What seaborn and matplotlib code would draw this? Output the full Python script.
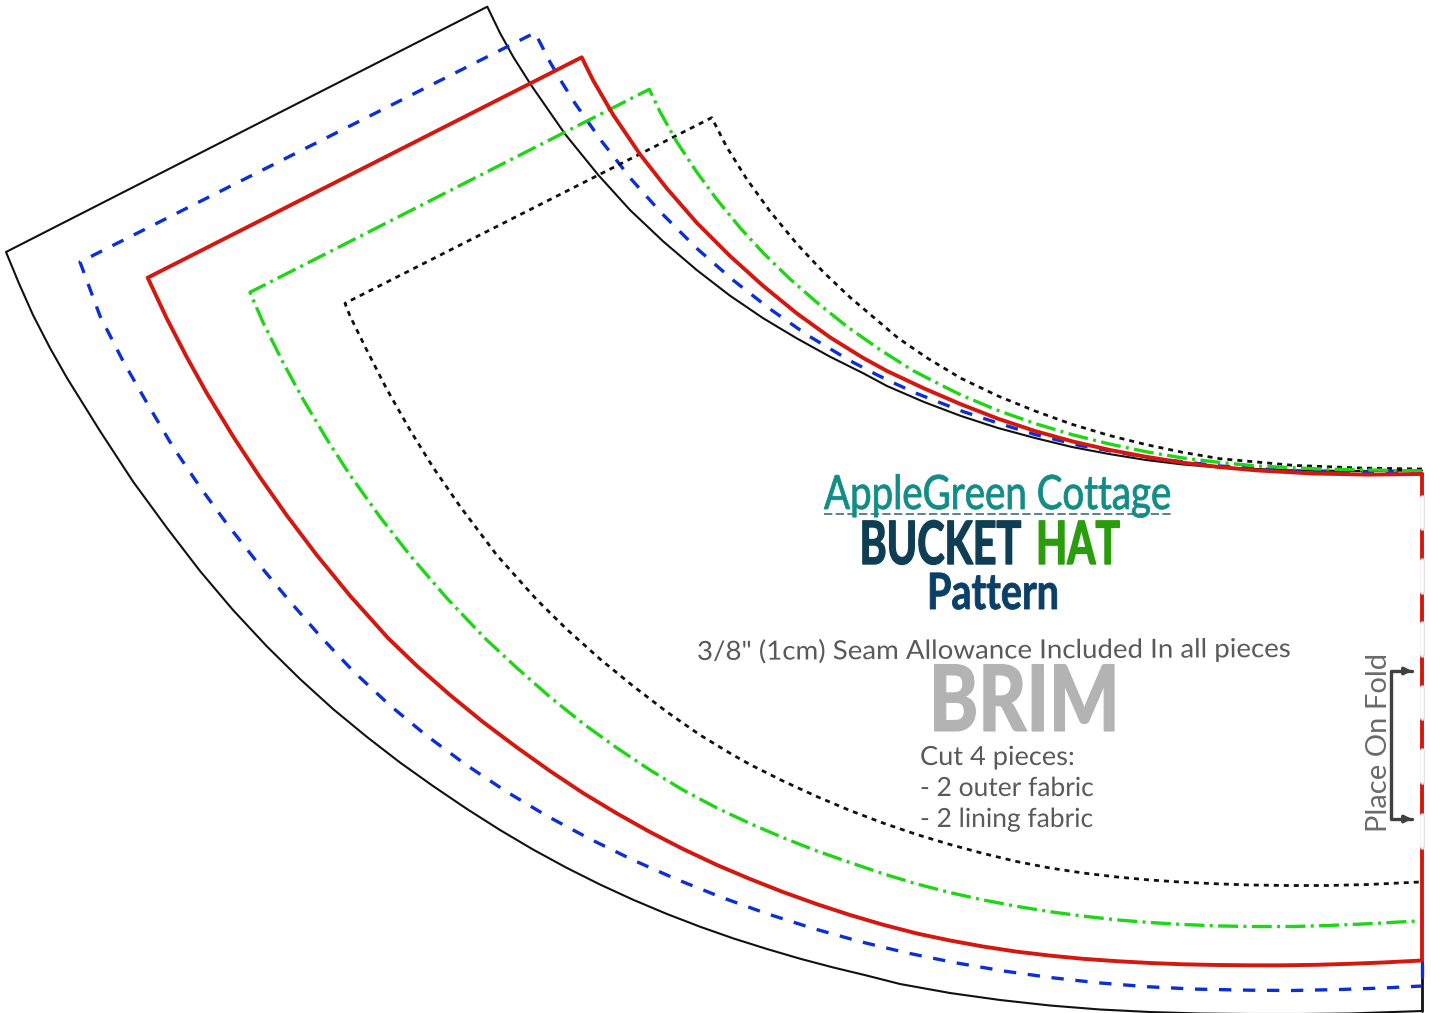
"""Bucket hat brim pattern sheet, redrawn with seaborn line plots."""
import matplotlib
matplotlib.use("Agg")
import matplotlib.pyplot as plt
from matplotlib.patheffects import AbstractPathEffect
from matplotlib.transforms import Affine2D
import seaborn as sns

# -----------------------------------------------------------------------------
# Outlines: inner end -> top corner -> left corner -> outer end
# -----------------------------------------------------------------------------
CUT_X = [1422, 1360, 1294, 1220, 1183, 1146, 1109, 1072, 1035, 998, 961, 924, 887, 863.3, 830,
         796.7, 763.3, 730, 696.7, 663.3, 630, 598.3, 565, 531.7, 513.3, 500, 487.3,
         6, 19, 33, 50, 67, 100, 133, 167, 200, 233, 267, 300, 333, 367, 400, 433, 467, 500, 533,
         567, 600, 633, 667, 700, 733, 767, 800, 833, 867, 900, 950, 1000, 1050, 1100, 1150, 1200,
         1250, 1300, 1350, 1422]
CUT_Y = [470.5, 471, 470.5, 467.5, 464.5, 460, 454, 447, 438, 428, 416, 402, 386, 373.3, 356.7,
         338.3, 318.3, 295.7, 270, 241.5, 210, 175, 134, 86, 57, 33, 6.7,
         252, 283.5, 315, 348, 378, 431, 481.5, 528, 571, 610, 646.5, 679, 709, 737, 762.5, 786,
         809, 830, 849.5, 868, 884.5, 899.7, 914, 926.7, 938.3, 949, 958.7, 967.4, 975.6, 984,
         993, 1000, 1005.5, 1009.5, 1012, 1013.5, 1014, 1014, 1013.5, 1011]

BLUE_X = [1422, 1360, 1294, 1220, 1150, 1080, 1035, 1009, 987, 963, 941, 918, 896, 876.7, 850,
          808.3, 770, 733.3, 696.7, 661.7, 631.7, 601.7, 575, 560, 550, 535,
          80, 100, 123, 147, 173, 200, 227, 257, 287, 320, 353, 390, 427, 467, 507, 547, 590,
          633, 677, 722, 767, 813, 860, 907, 955, 1003, 1050, 1098, 1147, 1195, 1250, 1292,
          1340, 1383, 1422]
BLUE_Y = [471, 472, 471, 466, 458, 445.5, 434.5, 426.5, 419.5, 411.5, 403, 394, 384, 374.7,
          360.7, 335.7, 309, 280.3, 248.3, 213.3, 179.7, 141.3, 103.3, 79.3, 62, 32.7,
          262, 316, 361, 403, 447, 487, 524, 562, 598, 636, 671, 705.5, 736, 765.5, 792, 816,
          839, 860, 879.5, 897.5, 913.7, 928.4, 941.6, 952.9, 962.7, 970.9, 977.5, 982.8, 986.7,
          989.1, 990.2, 990.5, 989.5, 988, 986]

GREEN_X = [1422, 1320, 1257, 1220, 1183, 1146, 1109, 1072, 1035, 998, 961, 939, 913, 880, 846.7,
           816.7, 790, 763.3, 740, 716.7, 696.7, 676.7, 660, 649.3,
           250, 263.3, 283.3, 303.3, 326.7, 350, 380, 410, 446.7, 485, 517, 550, 583, 617, 650,
           683, 717, 750, 783, 817, 850, 883, 917, 950, 983, 1017, 1050, 1083, 1117, 1150, 1183,
           1217, 1250, 1293, 1328, 1363, 1418]
GREEN_Y = [471, 469, 466, 462.5, 458, 451.7, 443.9, 434.6, 423.5, 410.5, 395, 384, 370.6, 349.7,
           326.3, 302.3, 279, 253, 227.7, 199.3, 172, 141.7, 111.7, 89.3,
           292.3, 323, 363, 399.7, 439, 475, 517, 555.3, 598, 638.3, 668, 697, 723.5, 748, 770,
           790, 808, 823.5, 837.7, 851, 862.5, 873.7, 884, 892.6, 899.9, 906.4, 911.7, 916.1,
           919.9, 922.5, 924.5, 925.9, 926.5, 926.5, 925.5, 924, 921]

DOT_X = [1422, 1360, 1294, 1220, 1183, 1146, 1109, 1072, 1035, 998, 961, 928, 898, 880, 850,
         823.3, 796.7, 770, 746.7, 726.7, 711.7,
         345, 350, 366.7, 386.7, 410, 433.3, 460, 496.7, 537, 567, 600, 633, 667, 700, 733, 750,
         783, 817, 850, 883, 917, 950, 983, 1017, 1050, 1083, 1117, 1150, 1183, 1217, 1250,
         1288, 1328, 1368, 1420]
DOT_Y = [469, 468, 465.4, 458.7, 452.4, 444.6, 435.4, 424.3, 411, 396, 378.3, 358.5, 338, 322.7,
         297.3, 272, 243.7, 211.3, 179, 147, 117.7,
         303.3, 316, 350, 389, 430, 467.7, 506.3, 555, 600, 629.5, 659, 686, 712, 735, 755, 764.5,
         781, 796.6, 810.5, 823, 834.6, 844.5, 853.4, 861.6, 868, 873, 877, 880, 882.2, 883.8,
         885, 885.5, 885.5, 884.5, 882]

RED_X = [1422, 1369, 1313, 1257, 1220, 1183, 1146, 1109, 1072, 1035, 998, 961, 924, 887, 863.3,
         830, 796.7, 763.3, 730, 696.7, 666.7, 640, 613.3, 593.3, 581.7,
         147.7, 166.7, 186.7, 206.7, 233.3, 260, 286.7, 316.7, 350, 388, 417, 450, 483, 517, 550,
         583, 617, 650, 683, 717, 750, 783, 817, 850, 883, 917, 950, 983, 1017, 1050, 1083, 1117,
         1150, 1183, 1217, 1250, 1283, 1317, 1350, 1383, 1422, 1422, 1422]
RED_Y = [474, 474.6, 473.5, 470.4, 467.1, 462.7, 456.8, 449.8, 441.3, 431, 418.7, 404.3, 388.4,
         371, 358, 337.3, 313.3, 286, 256, 222.7, 188.3, 154.3, 115, 80.7, 57.3,
         277.7, 318.3, 357, 393, 436.7, 477.3, 515.3, 555, 595.7, 638, 666, 695, 722, 747.5, 771,
         793, 813.5, 832, 849, 865, 879, 892, 904.2, 915, 924.7, 933.5, 940.5, 946.5, 951.7,
         955.6, 958.8, 961.2, 963, 964.3, 965, 965.3, 965.3, 964.8, 963.8, 962.5, 960.5, 700, 474]

# fold edge: white gaps on the red line, lower ends of the other lines
FOLD_GAPS_TOP = [497, 560, 623, 687, 750, 815]
FOLD_GAPS_BOTTOM = [528, 592, 655, 718, 782, 847]
EDGE_X = [1422, 1422]
CUT_EDGE_Y = [961, 1011]
BLUE_EDGE_Y = [963, 977]

# bracket of the "place on fold" mark
BRACKET_X = [1412, 1391, 1391, 1412]
BRACKET_Y = [671, 671, 819, 819]

# -----------------------------------------------------------------------------
# Colours
# -----------------------------------------------------------------------------
BLACK = "#111111"
BLUE = "#0b2fd6"
RED = "#d4170f"
GREEN = "#1fd616"
GREY_TEXT = "#5a5a5a"


class Squeeze(AbstractPathEffect):
    """Narrow a text horizontally around one x position (the fonts here run wide)."""

    def __init__(self, sx, x0, stroke=0.0):
        super().__init__()
        self.sx, self.x0, self.stroke = sx, x0, stroke

    def draw_path(self, renderer, gc, tpath, affine, rgbFace=None):
        squeezed = affine + Affine2D().translate(-self.x0, 0).scale(self.sx, 1).translate(self.x0, 0)
        if self.stroke:
            gc0 = renderer.new_gc()
            gc0.copy_properties(gc)
            gc0.set_linewidth(self.stroke)
            gc0.set_foreground(rgbFace)
            renderer.draw_path(gc0, tpath, squeezed, rgbFace)
            gc0.restore()
        else:
            renderer.draw_path(gc, tpath, squeezed, rgbFace)


sns.set_theme(style="white")
plt.rcParams["font.family"] = ["Lato", "DejaVu Sans"]

fig, ax = plt.subplots(figsize=(14.31, 10.13), dpi=100)
ax.set_position([0, 0, 1, 1])


def outline(xs, ys, color, width, style="-"):
    sns.lineplot(x=xs, y=ys, sort=False, estimator=None, color=color, linewidth=width,
                 linestyle=style, ax=ax, legend=False)


outline(CUT_X, CUT_Y, BLACK, 1.5)
outline(EDGE_X, CUT_EDGE_Y, BLACK, 2.0)
outline(BLUE_X, BLUE_Y, BLUE, 2.4, (0, (3.7, 3.5)))
outline(EDGE_X, BLUE_EDGE_Y, BLUE, 2.4)
outline(DOT_X, DOT_Y, BLACK, 2.0, (0, (1.8, 1.8)))
outline(GREEN_X, GREEN_Y, GREEN, 2.4, (0, (6, 1.6, 0.9, 1.6)))
outline(RED_X, RED_Y, RED, 2.8)

for top, bottom in zip(FOLD_GAPS_TOP, FOLD_GAPS_BOTTOM):
    outline(EDGE_X, [top, bottom], "#dddddd", 3.4)
    outline(EDGE_X, [top + 1, bottom - 1], "white", 2.6)

outline(BRACKET_X, BRACKET_Y, "#404040", 2.4)
for tip_y in (BRACKET_Y[0], BRACKET_Y[-1]):
    ax.annotate("", xy=(BRACKET_X[0], tip_y), xytext=(BRACKET_X[0] - 8, tip_y),
                arrowprops=dict(arrowstyle="-|>", color="#404040", lw=2.4, mutation_scale=10,
                                shrinkA=0, shrinkB=0))

ax.set_xlim(0, 1431)
ax.set_ylim(1013, 0)
ax.axis("off")


def label(x, y, text, size, color, sx=1.0, stroke=0.0, weight="normal", rotation=0, ha="left"):
    t = ax.text(x, y, text, fontsize=size, color=color, fontweight=weight, rotation=rotation,
                ha=ha, va="baseline", rotation_mode="anchor")
    t.set_path_effects([Squeeze(sx, x, stroke)])
    return t


# title block
label(824, 509, "AppleGreen Cottage", 34, "#128c86", sx=0.815, stroke=0.6)
outline([824, 1172], [514, 514], "#3d6d84", 1.2, (0, (5, 2)))
label(1021, 564, "BUCKET", 43, "#0f3e54", sx=0.69, stroke=1.0, weight="bold", ha="right")
label(1036, 564, "HAT", 43, "#2a9d0c", sx=0.68, stroke=1.0, weight="bold")
label(927, 609, "Pattern", 36, "#0b3f68", sx=0.79, stroke=0.6, weight="bold")

# notes
label(697, 660, "3/8\" (1cm) Seam Allowance Included In all pieces", 19, GREY_TEXT, sx=1.048,
      rotation=0.3)
label(929, 731, "BRIM", 66, "#b3b3b3", sx=0.81, stroke=0.8, weight="black")
label(920, 765, "Cut 4 pieces:", 19, GREY_TEXT, sx=1.03)
label(920, 796, "- 2 outer fabric", 19, GREY_TEXT)
label(920, 827, "- 2 lining fabric", 19, GREY_TEXT)
ax.text(1387, 832, "Place On Fold", fontsize=21, color="#6a6a6a", rotation=90,
        ha="left", va="baseline", rotation_mode="anchor")

fig.savefig("out.png", dpi=100)
plt.close(fig)
